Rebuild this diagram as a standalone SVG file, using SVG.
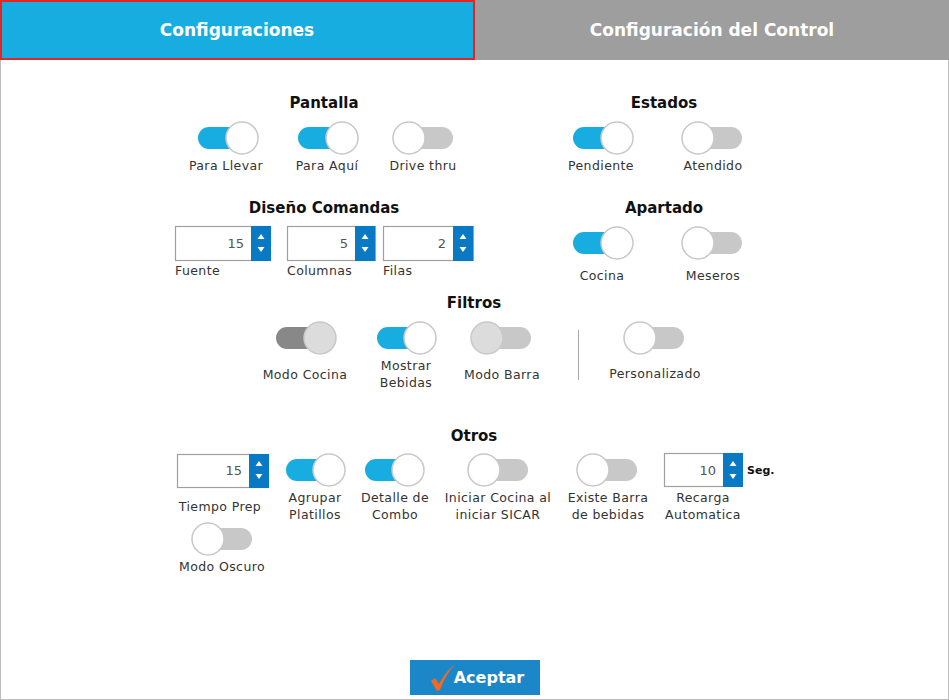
<svg xmlns="http://www.w3.org/2000/svg" width="949" height="700" viewBox="0 0 949 700">
<style>
text{font-family:"DejaVu Sans",sans-serif}
.t{font-size:15px;font-weight:bold;fill:#111;text-anchor:middle}
.l{font-size:12.5px;fill:#333;text-anchor:middle;letter-spacing:0.4px}
.ll{font-size:12.5px;fill:#333;letter-spacing:0.4px}
.on{fill:#17ADE0}.off{fill:#C8C8C8}
.k{fill:#fff;stroke:#C8C8C8;stroke-width:1.5}
.box{fill:#fff;stroke:#A0A0A0;stroke-width:1.2}
.sb{fill:#0A79C4}
.v{font-size:13px;fill:#555;text-anchor:end}
.ar{fill:#fff}
</style>
<defs>
<g id="sp"><path d="M0,-9 l-3.5,5 h7z M0,9 l-3.5,-5 h7z" class="ar"/></g>
</defs>
<rect x="0.5" y="0.5" width="948" height="699" fill="#fff" stroke="#BDBDBD"/>
<g id="tab1"><rect x="1" y="1" width="473" height="58" fill="#17ADE0" stroke="#E52521" stroke-width="2"/><text x="237" y="36" font-size="17" font-weight="bold" fill="#fff" text-anchor="middle">Configuraciones</text></g>
<g id="tab2"><rect x="475" y="0" width="474" height="60" fill="#9E9E9E"/><text x="712" y="36" font-size="17" font-weight="bold" fill="#fff" text-anchor="middle">Configuración del Control</text></g>

<g id="pantalla"><text class="t" x="324" y="108">Pantalla</text>
<rect class="on" x="198" y="127" width="55" height="22" rx="11"/><circle class="k" cx="242" cy="138" r="16"/><text class="l" x="226" y="170">Para Llevar</text>
<rect class="on" x="298" y="127" width="55" height="22" rx="11"/><circle class="k" cx="342" cy="138" r="16"/><text class="l" x="327" y="170">Para Aquí</text>
<rect class="off" x="398" y="127" width="55" height="22" rx="11"/><circle class="k" cx="409" cy="138" r="16"/><text class="l" x="423" y="170">Drive thru</text></g>

<g id="estados"><text class="t" x="664" y="108">Estados</text>
<rect class="on" x="573" y="127" width="55" height="22" rx="11"/><circle class="k" cx="617" cy="138" r="16"/><text class="l" x="601" y="170">Pendiente</text>
<rect class="off" x="687" y="127" width="55" height="22" rx="11"/><circle class="k" cx="698" cy="138" r="16"/><text class="l" x="713" y="170">Atendido</text></g>

<g id="diseno"><text class="t" x="324" y="213">Diseño Comandas</text>
<rect class="box" x="175.5" y="226.5" width="95" height="34"/><rect class="sb" x="251" y="226" width="20" height="35"/><use href="#sp" x="261" y="243"/><text class="v" x="244" y="248">15</text><text class="ll" x="175" y="275">Fuente</text>
<rect class="box" x="287.5" y="226.5" width="88" height="34"/><rect class="sb" x="355" y="226" width="20" height="35"/><use href="#sp" x="365" y="243"/><text class="v" x="348" y="248">5</text><text class="ll" x="287" y="275">Columnas</text>
<rect class="box" x="383.5" y="226.5" width="90" height="34"/><rect class="sb" x="453" y="226" width="20" height="35"/><use href="#sp" x="463" y="243"/><text class="v" x="446" y="248">2</text><text class="ll" x="383" y="275">Filas</text></g>

<g id="apartado"><text class="t" x="664" y="213">Apartado</text>
<rect class="on" x="573" y="232" width="55" height="22" rx="11"/><circle class="k" cx="617" cy="243" r="16"/><text class="l" x="602" y="280">Cocina</text>
<rect class="off" x="687" y="232" width="55" height="22" rx="11"/><circle class="k" cx="698" cy="243" r="16"/><text class="l" x="713" y="280">Meseros</text></g>

<g id="filtros"><text class="t" x="474" y="308">Filtros</text>
<rect fill="#888" x="276" y="327" width="55" height="22" rx="11"/><circle cx="320" cy="338" r="16" fill="#DCDCDC" stroke="#C8C8C8" stroke-width="1.5"/><text class="l" x="305" y="379">Modo Cocina</text>
<rect class="on" x="377" y="327" width="55" height="22" rx="11"/><circle class="k" cx="420" cy="338" r="16"/><text class="l" x="406" y="370">Mostrar</text><text class="l" x="406" y="387">Bebidas</text>
<rect class="off" x="476" y="327" width="55" height="22" rx="11"/><circle cx="487" cy="338" r="16" fill="#DCDCDC" stroke="#C8C8C8" stroke-width="1.5"/><text class="l" x="502" y="379">Modo Barra</text>
<line x1="578.5" y1="330" x2="578.5" y2="380" stroke="#AAA"/>
<rect class="off" x="629" y="327" width="55" height="22" rx="11"/><circle class="k" cx="640" cy="338" r="16"/><text class="l" x="655" y="378">Personalizado</text></g>

<g id="otros"><text class="t" x="474" y="441">Otros</text>
<rect class="box" x="177.5" y="454.5" width="91" height="33"/><rect class="sb" x="249" y="454" width="20" height="34"/><use href="#sp" x="259" y="470"/><text class="v" x="242" y="475">15</text><text class="l" x="220" y="511">Tiempo Prep</text>
<rect class="on" x="286" y="459" width="55" height="22" rx="11"/><circle class="k" cx="329" cy="470" r="16"/><text class="l" x="315" y="502">Agrupar</text><text class="l" x="315" y="519">Platillos</text>
<rect class="on" x="365" y="459" width="55" height="22" rx="11"/><circle class="k" cx="408" cy="470" r="16"/><text class="l" x="395" y="502">Detalle de</text><text class="l" x="395" y="519">Combo</text>
<rect class="off" x="473" y="459" width="55" height="22" rx="11"/><circle class="k" cx="484" cy="470" r="16"/><text class="l" x="498" y="502">Iniciar Cocina al</text><text class="l" x="498" y="519">iniciar SICAR</text>
<rect class="off" x="582" y="459" width="55" height="22" rx="11"/><circle class="k" cx="593" cy="470" r="16"/><text class="l" x="608" y="502">Existe Barra</text><text class="l" x="608" y="519">de bebidas</text>
<rect class="box" x="664.5" y="453.5" width="78" height="33"/><rect class="sb" x="723" y="453" width="20" height="34"/><use href="#sp" x="733" y="470"/><text class="v" x="716" y="475">10</text><text x="747" y="474" font-size="11" font-weight="bold" fill="#111">Seg.</text><text class="l" x="703" y="502">Recarga</text><text class="l" x="703" y="519">Automatica</text>
<rect class="off" x="197" y="528" width="55" height="22" rx="11"/><circle class="k" cx="208" cy="539" r="16"/><text class="l" x="222" y="571">Modo Oscuro</text></g>

<g id="aceptar"><rect x="410" y="660" width="130" height="35" fill="#1B87C9"/>
<path d="M431,681 l4,-3 l4,6 c5,-9 9,-14 16,-20 c-6,7 -11,15 -15,26 l-3,1 z" fill="#F06A1F"/>
<text x="489" y="683" font-size="16" font-weight="bold" fill="#fff" text-anchor="middle">Aceptar</text></g>
</svg>
